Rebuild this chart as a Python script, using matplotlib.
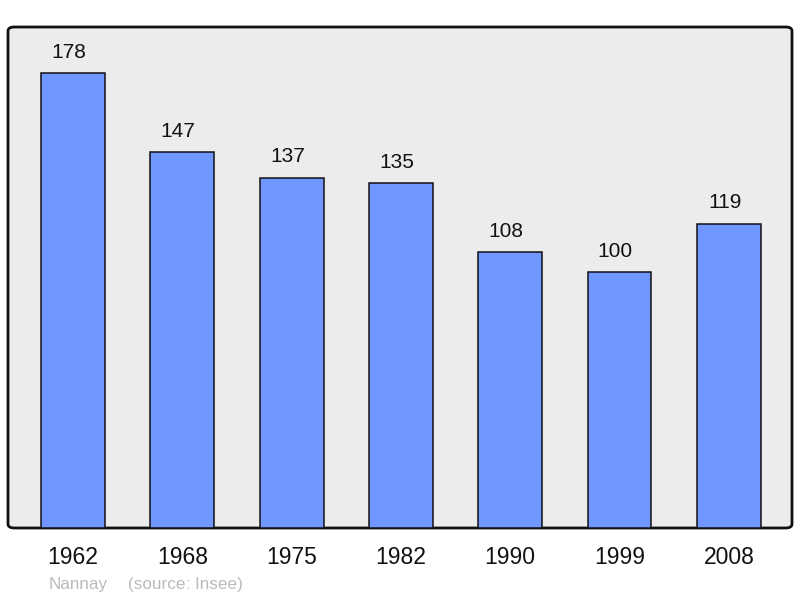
import matplotlib.pyplot as plt
from matplotlib.patches import FancyBboxPatch

plt.rcParams['font.family'] = ['Liberation Sans', 'DejaVu Sans']

years = ['1962', '1968', '1975', '1982', '1990', '1999', '2008']
population = [178, 147, 137, 135, 108, 100, 119]
town = 'Nannay'
source = '(source: Insee)'

fig = plt.figure(figsize=(8, 5.98), dpi=100)
ax = fig.add_axes([8 / 800, 70 / 598, 784 / 800, 501 / 598])
ax.set_facecolor('none')

# rounded grey frame behind the bars
frame = FancyBboxPatch((0, 0), 1, 1, boxstyle='round,pad=0,rounding_size=0.008',
                       transform=ax.transAxes, facecolor='#ececec',
                       edgecolor='#111111', linewidth=2, zorder=0, clip_on=False)
ax.add_patch(frame)

x = range(len(years))
ax.bar(x, population, width=0.585, color='#7097ff', edgecolor='#111111',
       linewidth=1.1, zorder=2)

# value labels sit a little left of the bar centre in the original
for xi, v in zip(x, population):
    ax.annotate(str(v), (xi, v), xytext=(-3, 15), textcoords='offset points',
                ha='center', va='center', fontsize=15, color='#111111')

ax.set_xlim(-0.595, 6.578)
ax.set_ylim(0, 196)
ax.set_xticks(list(x))
ax.set_xticklabels(years, fontsize=16.5, color='#111111')
ax.tick_params(axis='x', length=0, pad=13)
ax.set_yticks([])
for s in ax.spines.values():
    s.set_visible(False)

fig.text(49 / 800, 1 - 585 / 598, town, fontsize=12.3, color='#bbbbbb', va='center')
fig.text(128 / 800, 1 - 585 / 598, source, fontsize=12.3, color='#bbbbbb', va='center')

fig.savefig('out.png', dpi=100)
